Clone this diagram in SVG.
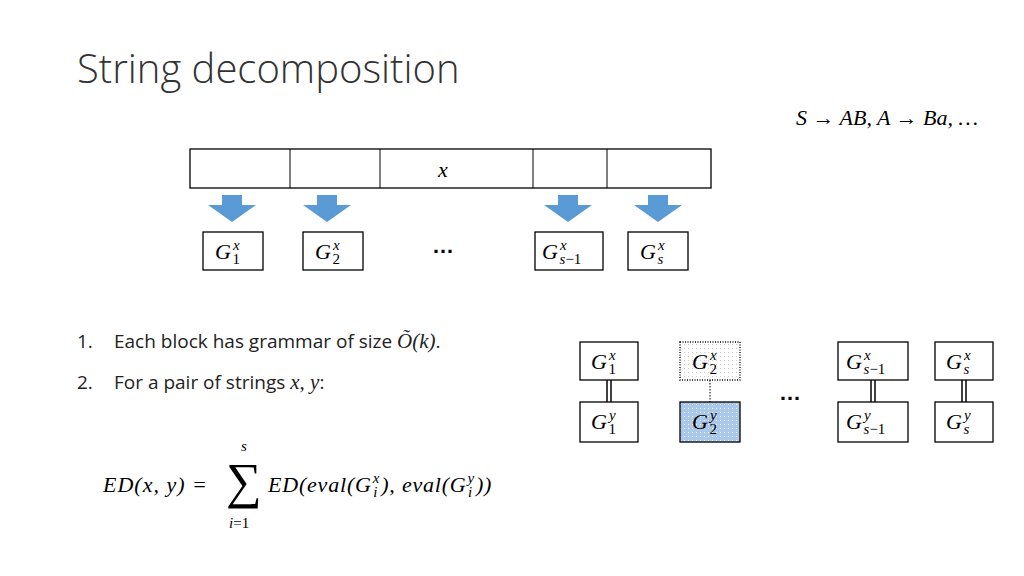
<svg xmlns="http://www.w3.org/2000/svg" width="1024" height="576" viewBox="0 0 1024 576">
<defs>
<pattern id="dots" width="4" height="4" patternUnits="userSpaceOnUse"><rect width="4" height="4" fill="#fff"/><rect width="1" height="1" fill="#ccc"/></pattern>
<pattern id="bdots" width="4" height="4" patternUnits="userSpaceOnUse"><rect width="4" height="4" fill="#a9c8ea"/><rect width="1" height="1" fill="#fff"/></pattern>
</defs>
<style>
.b{fill:#fff;stroke:#000;stroke-width:1.3}
.m{font-family:"Liberation Serif",serif;font-style:italic;font-size:22px}
.s{font-size:15px}
.t{font-family:"Open Sans","Liberation Sans",sans-serif;font-size:19px}
.ar{fill:#5b9bd5}
</style>
<rect width="1024" height="576" fill="#fff"/>
<text x="77" y="83" font-family="'Open Sans',sans-serif" font-weight="300" font-size="40" fill="#333">String decomposition</text>
<text x="796" y="125" class="m" font-size="19">S → AB, A → Ba, …</text>
<g id="bar">
<rect x="190" y="149" width="521" height="39" class="b"/>
<line x1="290" y1="149" x2="290" y2="188" stroke="#000"/>
<line x1="380" y1="149" x2="380" y2="188" stroke="#000"/>
<line x1="533" y1="149" x2="533" y2="188" stroke="#000"/>
<line x1="607" y1="149" x2="607" y2="188" stroke="#000"/>
<text x="443" y="177" class="m" text-anchor="middle">x</text>
</g>
<g id="arrows">
<path class="ar" d="M222,195h20v10h14l-24,17l-24,-17h14z"/>
<path class="ar" d="M317,195h20v10h14l-24,17l-24,-17h14z"/>
<path class="ar" d="M558,195h20v10h14l-24,17l-24,-17h14z"/>
<path class="ar" d="M648,195h20v10h14l-24,17l-24,-17h14z"/>
</g>
<g id="g1"><rect x="203" y="232" width="60" height="38" class="b"/><text x="215" y="259" class="m">G<tspan class="s" dx="2" dy="-9">x</tspan><tspan class="s" dx="-7" dy="14" font-style="normal">1</tspan></text></g>
<g id="g2"><rect x="303" y="232" width="60" height="38" class="b"/><text x="315" y="259" class="m">G<tspan class="s" dx="2" dy="-9">x</tspan><tspan class="s" dx="-7" dy="14" font-style="normal">2</tspan></text></g>
<text x="443" y="253" font-family="Liberation Sans,sans-serif" font-size="22" font-weight="bold" text-anchor="middle">…</text>
<g id="gs1"><rect x="535" y="232" width="68" height="38" class="b"/><text x="542" y="259" class="m">G<tspan class="s" dx="2" dy="-9">x</tspan><tspan class="s" dx="-7" dy="14">s</tspan><tspan class="s" font-style="normal">−1</tspan></text></g>
<g id="gs"><rect x="628" y="232" width="60" height="38" class="b"/><text x="640" y="259" class="m">G<tspan class="s" dx="2" dy="-9">x</tspan><tspan class="s" dx="-7" dy="14">s</tspan></text></g>
<g class="t" fill="#222">
<text x="77" y="348">1.</text><text x="114" y="348">Each block has grammar of size <tspan font-family="Liberation Serif,serif" font-style="italic" font-size="21">Õ(k)</tspan>.</text>
<text x="77" y="389">2.</text><text x="114" y="389">For a pair of strings <tspan font-family="Liberation Serif,serif" font-style="italic" font-size="21">x, y</tspan>:</text>
</g>
<g id="formula" class="m">
<text x="103" y="492" letter-spacing="1">ED(x, y) =</text>
<text x="226" y="498" font-size="50" font-style="normal">∑</text>
<text x="241" y="451" class="s">s</text>
<text x="229" y="528" class="s">i<tspan font-style="normal">=1</tspan></text>
<text x="268" y="492" letter-spacing="0.8">ED(eval(G<tspan class="s" dx="1" dy="-9">x</tspan><tspan class="s" dx="-7" dy="14">i</tspan><tspan dx="3" dy="-5">), eval(G</tspan><tspan class="s" dx="1" dy="-9">y</tspan><tspan class="s" dx="-7" dy="14">i</tspan><tspan dx="3" dy="-5">))</tspan></text>
</g>
<g id="connectors" stroke="#000">
<line x1="607" y1="380" x2="607" y2="402" stroke-width="1.5"/><line x1="611" y1="380" x2="611" y2="402" stroke-width="1.5"/>
<line x1="710" y1="380" x2="710" y2="402" stroke-dasharray="1.5,1.5"/>
<line x1="871" y1="380" x2="871" y2="402" stroke-width="1.5"/><line x1="875" y1="380" x2="875" y2="402" stroke-width="1.5"/>
<line x1="962" y1="380" x2="962" y2="402" stroke-width="1.5"/><line x1="966" y1="380" x2="966" y2="402" stroke-width="1.5"/>
</g>
<g id="p1x"><rect x="580" y="342" width="58" height="38" class="b"/><text x="591" y="369" class="m">G<tspan class="s" dx="2" dy="-9">x</tspan><tspan class="s" dx="-7" dy="14" font-style="normal">1</tspan></text></g>
<g id="p1y"><rect x="580" y="402" width="58" height="40" class="b"/><text x="591" y="429" class="m">G<tspan class="s" dx="2" dy="-9">y</tspan><tspan class="s" dx="-7" dy="14" font-style="normal">1</tspan></text></g>
<g id="p2x"><rect x="680" y="342" width="60" height="38" fill="url(#dots)" stroke="#000" stroke-width="1.3" stroke-dasharray="1,1.5"/><text x="692" y="369" class="m">G<tspan class="s" dx="2" dy="-9">x</tspan><tspan class="s" dx="-7" dy="14" font-style="normal">2</tspan></text></g>
<g id="p2y"><rect x="680" y="402" width="60" height="40" fill="url(#bdots)" stroke="#000" stroke-width="1.3"/><text x="692" y="429" class="m">G<tspan class="s" dx="2" dy="-9">y</tspan><tspan class="s" dx="-7" dy="14" font-style="normal">2</tspan></text></g>
<text x="790" y="400" font-family="Liberation Sans,sans-serif" font-size="22" font-weight="bold" text-anchor="middle">…</text>
<g id="psx"><rect x="838" y="342" width="70" height="38" class="b"/><text x="846" y="369" class="m">G<tspan class="s" dx="2" dy="-9">x</tspan><tspan class="s" dx="-7" dy="14">s</tspan><tspan class="s" font-style="normal">−1</tspan></text></g>
<g id="psy"><rect x="838" y="402" width="70" height="40" class="b"/><text x="846" y="429" class="m">G<tspan class="s" dx="2" dy="-9">y</tspan><tspan class="s" dx="-7" dy="14">s</tspan><tspan class="s" font-style="normal">−1</tspan></text></g>
<g id="pSx"><rect x="935" y="342" width="58" height="38" class="b"/><text x="946" y="369" class="m">G<tspan class="s" dx="2" dy="-9">x</tspan><tspan class="s" dx="-7" dy="14">s</tspan></text></g>
<g id="pSy"><rect x="935" y="402" width="58" height="40" class="b"/><text x="946" y="429" class="m">G<tspan class="s" dx="2" dy="-9">y</tspan><tspan class="s" dx="-7" dy="14">s</tspan></text></g>
</svg>
